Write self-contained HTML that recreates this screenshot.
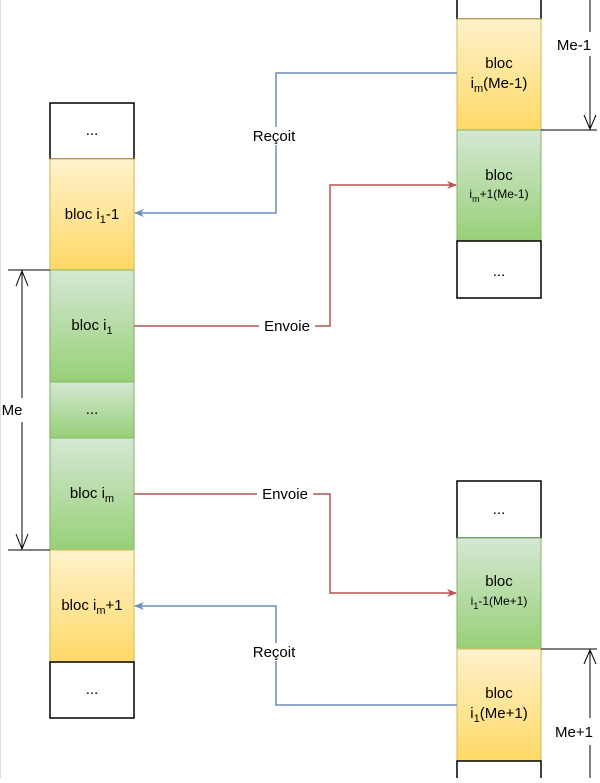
<!DOCTYPE html>
<html><head><meta charset="utf-8"><style>html,body{margin:0;padding:0;background:#fff;}</style></head>
<body>
<svg width="600" height="778" viewBox="0 0 600 778" xmlns="http://www.w3.org/2000/svg" font-family="Liberation Sans, sans-serif" font-size="15">
<defs>
<linearGradient id="o" x1="0" y1="0" x2="0" y2="1"><stop offset="0" stop-color="#fff2cc"/><stop offset="1" stop-color="#ffd966"/></linearGradient>
<linearGradient id="g" x1="0" y1="0" x2="0" y2="1"><stop offset="0" stop-color="#d5e8d4"/><stop offset="1" stop-color="#97d077"/></linearGradient>
<marker id="ab" markerWidth="10" markerHeight="8" refX="9" refY="4" orient="auto" markerUnits="userSpaceOnUse"><path d="M0,0 L10,4 L0,8 L3,4 Z" fill="#6c8ebf"/></marker>
<marker id="ar" markerWidth="10" markerHeight="8" refX="9" refY="4" orient="auto" markerUnits="userSpaceOnUse"><path d="M0,0 L10,4 L0,8 L3,4 Z" fill="#b85450"/></marker>
</defs>
<line x1="0.5" y1="0" x2="0.5" y2="778" stroke="#ddd"/>
<rect x="50" y="103" width="84" height="56" fill="#fff" stroke="#000" stroke-width="1.5"/>
<rect x="50" y="159" width="84" height="111" fill="url(#o)" stroke="#d6b656"/>
<rect x="50" y="270" width="84" height="112" fill="url(#g)" stroke="#82b366"/>
<rect x="50" y="382" width="84" height="56" fill="url(#g)" stroke="#82b366"/>
<rect x="50" y="438" width="84" height="112" fill="url(#g)" stroke="#82b366"/>
<rect x="50" y="550" width="84" height="112" fill="url(#o)" stroke="#d6b656"/>
<rect x="50" y="662" width="84" height="56" fill="#fff" stroke="#000" stroke-width="1.5"/>
<g text-anchor="middle">
<text x="92" y="135">...</text>
<text x="92" y="219">bloc i<tspan font-size="11" dy="4">1</tspan><tspan dy="-4">-1</tspan></text>
<text x="92" y="330">bloc i<tspan font-size="11" dy="4">1</tspan></text>
<text x="92" y="414">...</text>
<text x="92" y="498">bloc i<tspan font-size="11" dy="4">m</tspan></text>
<text x="92" y="610">bloc i<tspan font-size="11" dy="4">m</tspan><tspan dy="-4">+1</tspan></text>
<text x="92" y="694">...</text>
</g>
<line x1="8" y1="270" x2="50" y2="270" stroke="#000"/>
<line x1="8" y1="550" x2="50" y2="550" stroke="#000"/>
<line x1="22" y1="271" x2="22" y2="398" stroke="#000"/>
<line x1="22" y1="422" x2="22" y2="549" stroke="#000"/>
<path d="M16,286 L22,271 L28,286 M16,534 L22,549 L28,534" fill="none" stroke="#000"/>
<text x="12" y="415" text-anchor="middle">Me</text>
<rect x="457" y="-2" width="84" height="21" fill="#fff" stroke="#000" stroke-width="1.5"/>
<rect x="457" y="19" width="84" height="111" fill="url(#o)" stroke="#d6b656"/>
<rect x="457" y="130" width="84" height="111" fill="url(#g)" stroke="#82b366"/>
<rect x="457" y="241" width="84" height="57" fill="#fff" stroke="#000" stroke-width="1.5"/>
<g text-anchor="middle">
<text x="499" y="68">bloc</text>
<text x="499" y="88">i<tspan font-size="11" dy="4">m</tspan><tspan dy="-4">(Me-1)</tspan></text>
<text x="499" y="180">bloc</text>
<text x="499" y="198" font-size="12">i<tspan font-size="9" dy="4">m</tspan><tspan dy="-4">+1(Me-1)</tspan></text>
<text x="499" y="276">...</text>
</g>
<line x1="541" y1="130" x2="597" y2="130" stroke="#000"/>
<line x1="590" y1="0" x2="590" y2="32" stroke="#000"/>
<line x1="590" y1="56" x2="590" y2="129" stroke="#000"/>
<path d="M584,115 L590,129 L596,115" fill="none" stroke="#000"/>
<text x="574" y="50" text-anchor="middle">Me-1</text>
<rect x="457" y="481" width="84" height="57" fill="#fff" stroke="#000" stroke-width="1.5"/>
<rect x="457" y="538" width="84" height="111" fill="url(#g)" stroke="#82b366"/>
<rect x="457" y="649" width="84" height="112" fill="url(#o)" stroke="#d6b656"/>
<rect x="457" y="761" width="84" height="20" fill="#fff" stroke="#000" stroke-width="1.5"/>
<g text-anchor="middle">
<text x="499" y="514">...</text>
<text x="499" y="586">bloc</text>
<text x="499" y="605" font-size="12">i<tspan font-size="9" dy="4">1</tspan><tspan dy="-4">-1(Me+1)</tspan></text>
<text x="499" y="698">bloc</text>
<text x="499" y="718">i<tspan font-size="11" dy="4">1</tspan><tspan dy="-4">(Me+1)</tspan></text>
</g>
<line x1="541" y1="649" x2="597" y2="649" stroke="#000"/>
<line x1="590" y1="650" x2="590" y2="718" stroke="#000"/>
<line x1="590" y1="745" x2="590" y2="778" stroke="#000"/>
<path d="M584,664 L590,650 L596,664" fill="none" stroke="#000"/>
<text x="574" y="737" text-anchor="middle">Me+1</text>
<path d="M457,73 H276 V213 H135" fill="none" stroke="#6c8ebf" stroke-width="1.5" marker-end="url(#ab)"/>
<path d="M134,326 H330 V185 H456" fill="none" stroke="#b85450" stroke-width="1.5" marker-end="url(#ar)"/>
<path d="M134,494 H330 V593 H456" fill="none" stroke="#b85450" stroke-width="1.5" marker-end="url(#ar)"/>
<path d="M457,705 H276 V606 H135" fill="none" stroke="#6c8ebf" stroke-width="1.5" marker-end="url(#ab)"/>
<g text-anchor="middle">
<rect x="247" y="127" width="54" height="18" fill="#fff"/><text x="274" y="141">Reçoit</text>
<rect x="259" y="317" width="56" height="18" fill="#fff"/><text x="287" y="331">Envoie</text>
<rect x="257" y="485" width="56" height="18" fill="#fff"/><text x="285" y="499">Envoie</text>
<rect x="247" y="643" width="54" height="18" fill="#fff"/><text x="274" y="657">Reçoit</text>
</g>
</svg>
</body></html>
